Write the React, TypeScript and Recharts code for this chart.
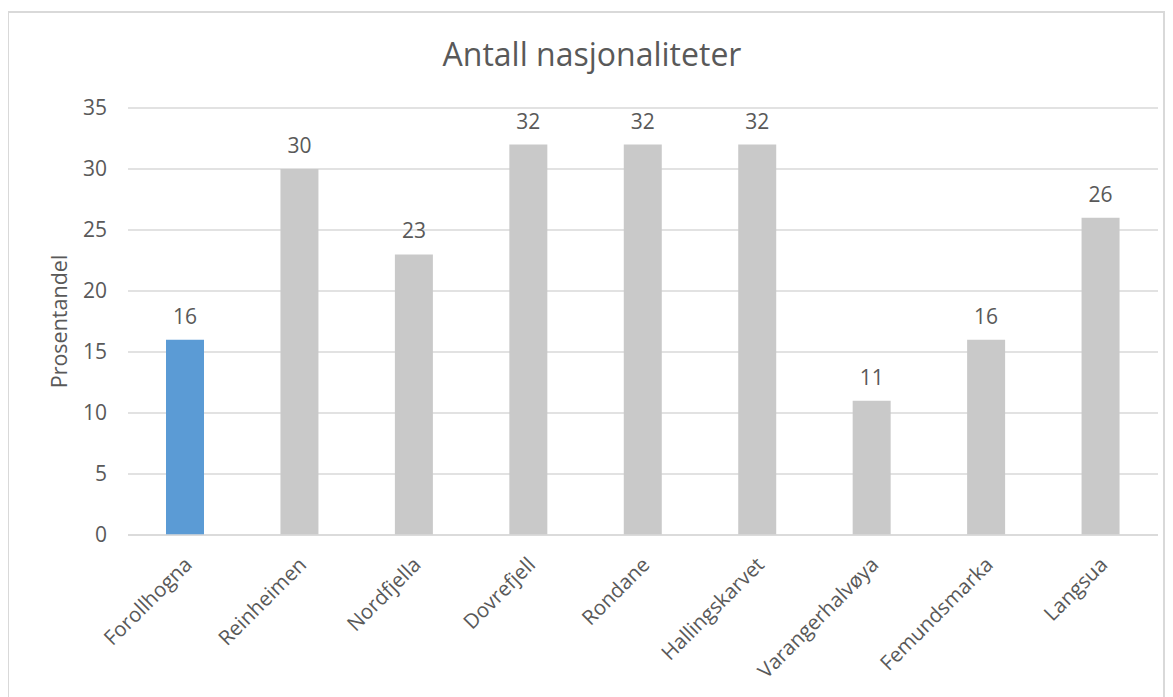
import React from "react";
import { BarChart, Bar, XAxis, YAxis, CartesianGrid, Cell, LabelList } from "recharts";

// Values
const categories = [
  "Forollhogna",
  "Reinheimen",
  "Nordfjella",
  "Dovrefjell",
  "Rondane",
  "Hallingskarvet",
  "Varangerhalvøya",
  "Femundsmarka",
  "Langsua",
];
const values = [16, 30, 23, 32, 32, 32, 11, 16, 26];
const yTicks = [0, 5, 10, 15, 20, 25, 30, 35];
const highlighted = "Forollhogna";

const data = categories.map((name, i) => ({ name, value: values[i] }));

const FONT = "'Open Sans', sans-serif";
const TEXT = "#595959";

function RotatedTick(props: any) {
  const { x, y, payload } = props;
  const tx = x + 8;
  const ty = y + 23;
  return (
    <text
      x={tx}
      y={ty}
      transform={`rotate(-45, ${tx}, ${ty})`}
      textAnchor="end"
      fill={TEXT}
      fontSize={20.5}
      fontFamily={FONT}
    >
      {payload.value}
    </text>
  );
}

function YTitle(props: any) {
  const { viewBox } = props;
  const cx = viewBox.x + 10;
  const cy = viewBox.y + viewBox.height / 2;
  return (
    <text
      x={cx}
      y={cy}
      transform={`rotate(-90, ${cx}, ${cy})`}
      textAnchor="middle"
      dominantBaseline="central"
      fill={TEXT}
      fontSize={21.5}
      fontFamily={FONT}
    >
      Prosentandel
    </text>
  );
}

export default function App() {
  return (
    <div
      style={{
        position: "relative",
        left: -1,
        top: 3,
        width: 1158,
        height: 690,
        border: "2px solid #d9d9d9",
        boxSizing: "border-box",
        background: "#fff",
      }}
    >
      <div
        style={{
          position: "absolute",
          top: 19,
          left: 6,
          width: 1154,
          textAlign: "center",
          fontFamily: FONT,
          fontSize: 32,
          lineHeight: "normal",
          color: TEXT,
        }}
      >
        Antall nasjonaliteter
      </div>
      <BarChart
        width={1154}
        height={686}
        data={data}
        margin={{ top: 95, right: 5, bottom: 44, left: 39 }}
        barCategoryGap={0}
      >
        <CartesianGrid vertical={false} stroke="#d9d9d9" strokeWidth={1.5} />
        <XAxis
          dataKey="name"
          interval={0}
          height={120}
          axisLine={{ stroke: "#d9d9d9", strokeWidth: 1.5 }}
          tickLine={false}
          tick={<RotatedTick />}
        />
        <YAxis
          width={80}
          domain={[0, 35]}
          ticks={yTicks}
          axisLine={false}
          tickLine={false}
          tickSize={0}
          tickMargin={21}
          tick={{ fill: TEXT, fontSize: 21, fontFamily: FONT }}
          label={<YTitle />}
        />
        <Bar dataKey="value" barSize={38} isAnimationActive={false}>
          {data.map((d) => (
            <Cell key={d.name} fill={d.name === highlighted ? "#5b9bd5" : "#c9c9c9"} />
          ))}
          <LabelList
            dataKey="value"
            position="top"
            offset={16}
            fill={TEXT}
            fontSize={21}
            fontFamily={FONT}
          />
        </Bar>
      </BarChart>
    </div>
  );
}
